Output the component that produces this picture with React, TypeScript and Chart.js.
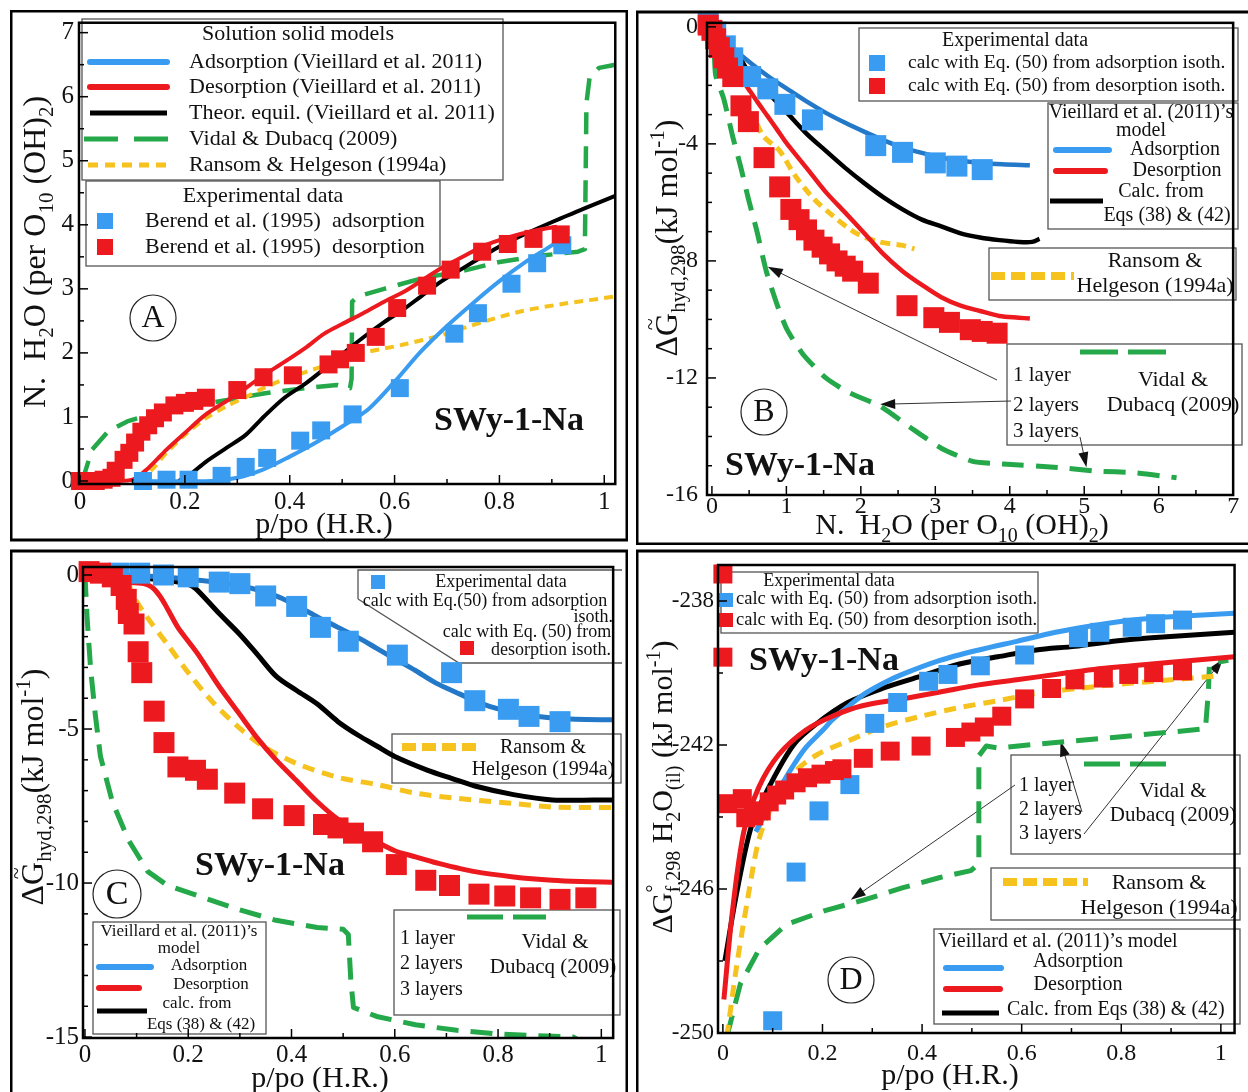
import React, { useEffect, useRef } from 'react';
import { Chart, registerables } from 'chart.js';

Chart.register(...registerables);

type P = [number, number];

// ================= Panel A : N. H2O vs p/po =================
const A_xTicks = [0, 0.2, 0.4, 0.6, 0.8, 1];
const A_yTicks = [0, 1, 2, 3, 4, 5, 6, 7];
const A_adsData: P[] = [[0.12, 0], [0.165, 0.02], [0.207, 0.02], [0.27, 0.08], [0.316, 0.22], [0.357, 0.36], [0.42, 0.63], [0.46, 0.79], [0.52, 1.04], [0.61, 1.45], [0.714, 2.3], [0.759, 2.62], [0.823, 3.08], [0.872, 3.4], [0.92, 3.68]];
const A_desData: P[] = [[0, 0], [0.015, 0], [0.03, 0], [0.045, 0.02], [0.06, 0.05], [0.068, 0.16], [0.083, 0.33], [0.094, 0.44], [0.105, 0.6], [0.117, 0.77], [0.13, 0.87], [0.143, 0.98], [0.158, 1.07], [0.18, 1.18], [0.2, 1.22], [0.218, 1.25], [0.24, 1.3], [0.3, 1.42], [0.35, 1.62], [0.406, 1.65], [0.474, 1.82], [0.496, 1.9], [0.526, 2.0], [0.564, 2.25], [0.605, 2.7], [0.662, 3.05], [0.707, 3.3], [0.767, 3.58], [0.816, 3.7], [0.865, 3.78], [0.917, 3.85]];
const A_adsModel: P[] = [[0.1, 0], [0.25, 0], [0.3, 0.05], [0.35, 0.18], [0.4, 0.38], [0.45, 0.6], [0.5, 0.85], [0.55, 1.12], [0.6, 1.55], [0.65, 2.02], [0.7, 2.42], [0.75, 2.78], [0.8, 3.12], [0.85, 3.42], [0.9, 3.68], [0.92, 3.8]];
const A_desModel: P[] = [[0.05, 0], [0.1, 0.02], [0.13, 0.2], [0.165, 0.49], [0.2, 0.75], [0.24, 1.04], [0.28, 1.25], [0.316, 1.45], [0.35, 1.65], [0.39, 1.86], [0.43, 2.08], [0.466, 2.3], [0.5, 2.45], [0.54, 2.62], [0.58, 2.8], [0.617, 2.95], [0.65, 3.12], [0.69, 3.33], [0.73, 3.5], [0.767, 3.66], [0.8, 3.76], [0.842, 3.86], [0.88, 3.93], [0.91, 3.97]];
const A_equil: P[] = [[0.188, 0], [0.21, 0.1], [0.24, 0.3], [0.28, 0.52], [0.316, 0.72], [0.35, 1.0], [0.39, 1.3], [0.43, 1.52], [0.466, 1.75], [0.5, 1.98], [0.54, 2.24], [0.58, 2.48], [0.617, 2.68], [0.65, 2.88], [0.69, 3.12], [0.73, 3.32], [0.767, 3.5], [0.8, 3.66], [0.842, 3.83], [0.88, 3.97], [0.917, 4.1], [0.96, 4.25], [1.021, 4.45]];
const A_vidal: P[] = [[0, 0], [0.008, 0.1], [0.023, 0.49], [0.053, 0.77], [0.09, 0.93], [0.135, 1.04], [0.2, 1.15], [0.278, 1.26], [0.353, 1.37], [0.43, 1.45], [0.49, 1.5], [0.515, 1.45], [0.518, 1.6], [0.519, 2.8], [0.53, 2.88], [0.58, 3.0], [0.654, 3.17], [0.73, 3.28], [0.8, 3.42], [0.88, 3.52], [0.95, 3.58], [0.963, 3.62], [0.966, 5.9], [0.972, 6.3], [0.99, 6.45], [1.021, 6.5]];
const A_ransom: P[] = [[0.113, 0], [0.14, 0.2], [0.165, 0.44], [0.2, 0.72], [0.24, 0.98], [0.28, 1.17], [0.316, 1.31], [0.35, 1.45], [0.39, 1.59], [0.43, 1.7], [0.466, 1.8], [0.5, 1.9], [0.54, 2.0], [0.617, 2.13], [0.69, 2.28], [0.767, 2.48], [0.842, 2.65], [0.917, 2.76], [1.021, 2.88]];
const A_modelLabels = ['Adsorption (Vieillard et al. 2011)', 'Desorption (Vieillard et al. 2011)', 'Theor. equil. (Vieillard et al. 2011)', 'Vidal & Dubacq (2009)', 'Ransom & Helgeson (1994a)'];
const A_dataLabels = ['Berend et al. (1995)  adsorption', 'Berend et al. (1995)  desorption'];

// ================= Panel B : dG hyd vs N. H2O =================
const B_xTicks = [0, 1, 2, 3, 4, 5, 6, 7];
const B_yTicks = [0, -4, -8, -12, -16];
const B_adsData: P[] = [[-0.05, 0.12], [0.05, -0.18], [0.18, -0.65], [0.28, -1.06], [0.52, -1.7], [0.75, -2.12], [0.98, -2.65], [1.35, -3.18], [2.2, -4.06], [2.56, -4.29], [3.0, -4.65], [3.29, -4.76], [3.63, -4.88]];
const B_desData: P[] = [[-0.05, 0.06], [0, -0.12], [0.05, -0.41], [0.1, -0.71], [0.16, -1.06], [0.21, -1.41], [0.28, -1.7], [0.39, -2.7], [0.49, -3.24], [0.7, -4.47], [0.91, -5.47], [1.06, -6.24], [1.17, -6.59], [1.27, -6.94], [1.37, -7.29], [1.48, -7.53], [1.58, -7.76], [1.68, -8.0], [1.79, -8.18], [1.89, -8.35], [2.1, -8.76], [2.62, -9.53], [2.98, -9.94], [3.19, -10.1], [3.47, -10.35], [3.63, -10.41], [3.83, -10.47]];
const B_adsModel: P[] = [[-0.05, 0.24], [0.1, -0.25], [0.23, -0.59], [0.49, -1.18], [0.75, -1.68], [1.01, -2.12], [1.27, -2.55], [1.53, -2.94], [1.79, -3.28], [2.05, -3.59], [2.3, -3.87], [2.56, -4.12], [2.82, -4.31], [3.08, -4.47], [3.34, -4.58], [3.6, -4.65], [3.9, -4.7], [4.27, -4.73]];
const B_desModel: P[] = [[0, 0.12], [0.1, -0.45], [0.23, -1.06], [0.35, -1.6], [0.49, -2.12], [0.62, -2.6], [0.75, -3.06], [0.88, -3.53], [1.01, -4.0], [1.27, -4.82], [1.53, -5.65], [1.79, -6.35], [2.05, -7.06], [2.3, -7.76], [2.56, -8.35], [2.82, -8.82], [3.08, -9.24], [3.34, -9.53], [3.6, -9.71], [3.86, -9.88], [4.12, -9.94], [4.27, -9.97]];
const B_equil: P[] = [[0, 0.18], [0.1, -0.25], [0.23, -0.59], [0.35, -0.95], [0.49, -1.53], [0.75, -2.24], [1.01, -2.94], [1.27, -3.65], [1.53, -4.24], [1.79, -4.82], [2.05, -5.35], [2.3, -5.82], [2.56, -6.24], [2.82, -6.59], [3.08, -6.82], [3.34, -7.06], [3.6, -7.2], [3.86, -7.29], [4.12, -7.35], [4.3, -7.35], [4.4, -7.25]];
const B_ransom: P[] = [[0.6, -3.3], [0.7, -3.76], [0.91, -4.24], [1.11, -5.06], [1.37, -5.88], [1.63, -6.47], [1.94, -7.06], [2.25, -7.35], [2.56, -7.47], [2.72, -7.59]];
const B_vidal: P[] = [[0, 0.12], [0.03, -0.8], [0.05, -1.65], [0.16, -2.47], [0.28, -3.76], [0.39, -4.82], [0.49, -5.88], [0.6, -6.94], [0.73, -8.35], [0.88, -9.53], [1.01, -10.35], [1.22, -11.18], [1.53, -12.0], [1.84, -12.5], [2.25, -12.95], [2.67, -13.7], [3.08, -14.4], [3.5, -14.85], [3.91, -14.94], [4.64, -15.06], [5.16, -15.18], [5.67, -15.24], [6.24, -15.41]];
const B_layerTargets: P[] = [[0.75, -8.2], [2.26, -12.9], [5.03, -15.05]];

// ================= Panel C : dG hyd vs p/po =================
const C_xTicks = [0, 0.2, 0.4, 0.6, 0.8, 1];
const C_yTicks = [0, -5, -10, -15];
const C_adsData: P[] = [[0.065, 0.06], [0.106, 0.06], [0.152, 0], [0.2, -0.06], [0.26, -0.23], [0.3, -0.28], [0.35, -0.68], [0.41, -1.02], [0.456, -1.7], [0.51, -2.15], [0.605, -2.6], [0.71, -3.17], [0.755, -4.08], [0.82, -4.36], [0.86, -4.59], [0.92, -4.76]];
const C_desData: P[] = [[0.008, 0.11], [0.03, 0.06], [0.053, -0.06], [0.07, -0.34], [0.08, -0.79], [0.084, -1.25], [0.095, -1.59], [0.103, -2.49], [0.11, -3.17], [0.134, -4.42], [0.153, -5.44], [0.18, -6.23], [0.214, -6.34], [0.237, -6.63], [0.29, -7.08], [0.344, -7.59], [0.405, -7.81], [0.462, -8.1], [0.49, -8.21], [0.52, -8.38], [0.557, -8.66], [0.603, -9.4], [0.66, -9.91], [0.706, -10.08], [0.763, -10.36], [0.813, -10.42], [0.863, -10.48], [0.92, -10.53], [0.97, -10.48]];
const C_adsModel: P[] = [[0.07, 0], [0.145, -0.06], [0.22, -0.17], [0.3, -0.34], [0.37, -0.68], [0.41, -1.0], [0.45, -1.36], [0.49, -1.7], [0.53, -2.04], [0.565, -2.38], [0.6, -2.72], [0.64, -3.1], [0.68, -3.51], [0.72, -3.82], [0.755, -4.08], [0.79, -4.3], [0.83, -4.47], [0.87, -4.58], [0.905, -4.64], [0.95, -4.68], [1.023, -4.7]];
const C_desModel: P[] = [[0.076, -0.23], [0.114, -0.28], [0.13, -0.4], [0.145, -0.68], [0.16, -1.1], [0.18, -1.7], [0.2, -2.15], [0.22, -2.6], [0.26, -3.62], [0.3, -4.53], [0.335, -5.32], [0.37, -6.0], [0.41, -6.68], [0.45, -7.36], [0.49, -7.93], [0.53, -8.32], [0.565, -8.66], [0.6, -8.95], [0.64, -9.15], [0.68, -9.34], [0.755, -9.63], [0.83, -9.8], [0.905, -9.91], [0.96, -9.95], [1.023, -9.97]];
const C_equil: P[] = [[0.076, -0.06], [0.145, -0.15], [0.2, -0.3], [0.215, -0.45], [0.26, -1.25], [0.3, -1.93], [0.335, -2.6], [0.37, -3.28], [0.41, -3.75], [0.45, -4.19], [0.49, -4.76], [0.53, -5.21], [0.565, -5.55], [0.6, -5.89], [0.664, -6.34], [0.71, -6.6], [0.755, -6.85], [0.83, -7.13], [0.905, -7.3], [1.023, -7.3]];
const C_ransom: P[] = [[0.085, -0.2], [0.09, -0.57], [0.12, -1.36], [0.16, -2.26], [0.2, -3.17], [0.245, -4.08], [0.3, -4.98], [0.344, -5.55], [0.41, -6.12], [0.49, -6.57], [0.565, -6.8], [0.64, -7.08], [0.72, -7.25], [0.83, -7.42], [0.905, -7.53], [1.023, -7.55]];
const C_vidal: P[] = [[0, 0], [0.004, -1.36], [0.011, -3.06], [0.02, -4.53], [0.03, -5.89], [0.053, -7.36], [0.084, -8.6], [0.122, -9.63], [0.16, -10.08], [0.22, -10.42], [0.3, -10.87], [0.37, -11.21], [0.45, -11.44], [0.5, -11.5], [0.51, -11.67], [0.515, -13.2], [0.52, -14.04], [0.565, -14.33], [0.64, -14.6], [0.72, -14.78], [0.794, -14.89], [0.87, -14.95], [0.946, -15.0], [0.977, -15.3]];

// ================= Panel D : dGf H2O(il) vs p/po =================
const D_xTicks = [0, 0.2, 0.4, 0.6, 0.8, 1];
const D_yTicks = [-238, -242, -246, -250];
const D_adsData: P[] = [[0.1, -249.66], [0.147, -245.53], [0.193, -243.83], [0.255, -243.1], [0.305, -241.4], [0.351, -240.82], [0.413, -240.23], [0.452, -240.04], [0.517, -239.8], [0.606, -239.5], [0.714, -239.02], [0.757, -238.87], [0.822, -238.73], [0.869, -238.63], [0.923, -238.53]];
const D_desData: P[] = [[0, -237.25], [0, -239.56], [0.01, -243.63], [0.039, -243.49], [0.046, -244.02], [0.062, -243.97], [0.077, -243.83], [0.093, -243.58], [0.108, -243.39], [0.124, -243.25], [0.147, -243.05], [0.17, -242.91], [0.197, -242.81], [0.224, -242.71], [0.239, -242.66], [0.282, -242.37], [0.336, -242.17], [0.398, -242.03], [0.467, -241.79], [0.498, -241.64], [0.525, -241.5], [0.56, -241.2], [0.606, -240.72], [0.66, -240.43], [0.707, -240.19], [0.764, -240.14], [0.815, -240.04], [0.865, -239.99], [0.923, -239.94]];
const D_adsModel: P[] = [[0.066, -244.41], [0.09, -243.8], [0.112, -243.25], [0.14, -242.6], [0.166, -242.08], [0.2, -241.6], [0.22, -241.3], [0.25, -240.95], [0.28, -240.62], [0.32, -240.3], [0.36, -240.04], [0.436, -239.65], [0.514, -239.36], [0.59, -239.12], [0.668, -238.87], [0.745, -238.68], [0.822, -238.53], [0.9, -238.44], [1.027, -238.34]];
const D_desModel: P[] = [[0.002, -249.07], [0.019, -246.64], [0.042, -244.41], [0.073, -243.15], [0.112, -242.27], [0.166, -241.59], [0.22, -241.2], [0.28, -240.91], [0.36, -240.72], [0.436, -240.53], [0.514, -240.33], [0.59, -240.19], [0.668, -240.04], [0.745, -239.9], [0.822, -239.8], [0.9, -239.7], [1.027, -239.55]];
const D_equil: P[] = [[0.004, -248.0], [0.027, -246.16], [0.058, -244.22], [0.097, -243.05], [0.143, -241.98], [0.189, -241.4], [0.251, -240.82], [0.32, -240.43], [0.398, -240.09], [0.475, -239.75], [0.552, -239.55], [0.629, -239.36], [0.707, -239.26], [0.784, -239.12], [0.861, -239.02], [1.027, -238.87]];
const D_ransom: P[] = [[0.008, -250.1], [0.027, -248.2], [0.05, -246.26], [0.073, -244.6], [0.104, -243.54], [0.143, -242.76], [0.189, -242.27], [0.251, -241.89], [0.32, -241.5], [0.398, -241.2], [0.475, -240.96], [0.552, -240.77], [0.629, -240.57], [0.745, -240.38], [0.822, -240.28], [0.9, -240.19], [0.985, -240.09]];
const D_vidal: P[] = [[0.008, -250.1], [0.035, -248.64], [0.073, -247.67], [0.127, -246.99], [0.205, -246.6], [0.282, -246.31], [0.36, -245.97], [0.436, -245.68], [0.498, -245.49], [0.514, -245.3], [0.514, -242.3], [0.529, -242.03], [0.552, -242.08], [0.668, -241.93], [0.784, -241.79], [0.9, -241.64], [0.969, -241.55], [0.975, -240.5], [0.977, -239.75], [0.992, -239.7], [1.015, -239.65]];
const D_layerTargets: P[] = [[0.257, -246.3], [0.678, -241.9], [1.004, -239.62]];

// ================= styling =================
const FAM = "'Liberation Serif', 'Times New Roman', serif";
const BLUE = '#3a9cf0';
const BLUE_D = '#2478c8';
const RED = '#ec1a1f';
const GREEN = '#24a84a';
const YELLOW = '#f6c21e';
const INK = '#111';

type Seg = [string, string];
const Y_TITLE_A: Seg[] = [['N.  H', 'n'], ['2', 'b'], ['O (per O', 'n'], ['10', 'b'], [' (OH)', 'n'], ['2', 'b'], [')', 'n']];
const Y_TITLE_G: Seg[] = [['\u0394', 'n'], ['G', 'n'], ['~', 'T'], ['hyd,298', 'b'], ['(kJ mol', 'n'], ['-1', 'p'], [')', 'n']];
const Y_TITLE_D: Seg[] = [['\u0394', 'n'], ['G', 'n'], ['\u00b0', 'P'], ['f,298', 'b'], [' H', 'n'], ['2', 'b'], ['O', 'n'], ['(il)', 'b'], [' (kJ mol', 'n'], ['-1', 'p'], [')', 'n']];

const fnt = (s: number, bold = false) => `${bold ? 'bold ' : ''}${s}px ${FAM}`;

function txt(c: CanvasRenderingContext2D, s: string, x: number, y: number, size: number, align: CanvasTextAlign = 'left', bold = false) {
  c.font = fnt(size, bold);
  c.textAlign = align;
  c.textBaseline = 'middle';
  c.fillStyle = INK;
  c.fillText(s, x, y);
}
function box(c: CanvasRenderingContext2D, x1: number, y1: number, x2: number, y2: number) {
  c.setLineDash([]);
  c.strokeStyle = '#555';
  c.lineWidth = 1.3;
  c.strokeRect(x1, y1, x2 - x1, y2 - y1);
}
function seg(c: CanvasRenderingContext2D, x1: number, x2: number, y: number, color: string, lw: number, dash: number[] = [], cap: CanvasLineCap = 'round') {
  c.save();
  c.setLineDash(dash);
  c.lineCap = cap;
  c.strokeStyle = color;
  c.lineWidth = lw;
  c.beginPath();
  c.moveTo(x1, y);
  c.lineTo(x2, y);
  c.stroke();
  c.restore();
}
function sq(c: CanvasRenderingContext2D, x: number, y: number, s: number, color: string) {
  c.fillStyle = color;
  c.fillRect(x - s / 2, y - s / 2, s, s);
}
function circ(c: CanvasRenderingContext2D, x: number, y: number, r: number, letter: string, size: number) {
  c.setLineDash([]);
  c.strokeStyle = '#222';
  c.lineWidth = 1.2;
  c.beginPath();
  c.arc(x, y, r, 0, Math.PI * 2);
  c.stroke();
  txt(c, letter, x, y + 1, size, 'center');
}
function arrow(c: CanvasRenderingContext2D, x1: number, y1: number, x2: number, y2: number) {
  c.save();
  c.setLineDash([]);
  c.strokeStyle = '#333';
  c.fillStyle = '#111';
  c.lineWidth = 1;
  const a = Math.atan2(y2 - y1, x2 - x1);
  c.beginPath();
  c.moveTo(x1, y1);
  c.lineTo(x2 - 10 * Math.cos(a), y2 - 10 * Math.sin(a));
  c.stroke();
  c.beginPath();
  c.moveTo(x2, y2);
  c.lineTo(x2 - 15 * Math.cos(a) + 5 * Math.sin(a), y2 - 15 * Math.sin(a) - 5 * Math.cos(a));
  c.lineTo(x2 - 15 * Math.cos(a) - 5 * Math.sin(a), y2 - 15 * Math.sin(a) + 5 * Math.cos(a));
  c.closePath();
  c.fill();
  c.restore();
}
function rich(c: CanvasRenderingContext2D, segs: Seg[], x: number, y: number, size: number, rot: boolean) {
  const small = Math.round(size * 0.66);
  const fFor = (k: string) => fnt(k === 'n' ? size : small);
  let total = 0;
  for (const [t, k] of segs) {
    if (k === 'P' || k === 'T') continue;
    c.font = fFor(k);
    total += c.measureText(t).width;
  }
  c.save();
  c.translate(x, y);
  if (rot) c.rotate(-Math.PI / 2);
  c.textBaseline = 'alphabetic';
  c.textAlign = 'left';
  c.fillStyle = INK;
  let cx = -total / 2;
  let lastW = 0;
  const base = size * 0.33;
  for (const [t, k] of segs) {
    if (k === 'T') {
      c.font = fnt(Math.round(size * 0.7));
      c.textAlign = 'center';
      c.fillText(t, cx - lastW / 2, base - size * 0.6);
      c.textAlign = 'left';
      continue;
    }
    c.font = fFor(k);
    const dy = k === 'b' ? size * 0.26 : k === 'p' || k === 'P' ? -size * 0.4 : 0;
    c.fillText(t, cx, base + dy);
    const w = c.measureText(t).width;
    if (k !== 'P') {
      cx += w;
      lastW = w;
    }
  }
  c.restore();
}

const toXY = (d: P[]) => d.map(([x, y]) => ({ x, y }));
const lineDs = (d: P[], color: string, width: number, dash: number[] = [], tension = 0.3) => ({
  data: toXY(d), showLine: true, borderColor: color, borderWidth: width, borderDash: dash,
  pointRadius: 0, pointHoverRadius: 0, tension, fill: false, borderCapStyle: 'butt', borderJoinStyle: 'round',
});
const ptsDs = (d: P[], color: string, side: number) => ({
  data: toXY(d), showLine: false, pointStyle: 'rect', pointRadius: side / Math.SQRT2, pointHoverRadius: side / Math.SQRT2,
  backgroundColor: color, borderColor: color, pointBorderWidth: 0, clip: false,
});

type Axis = { min: number; max: number; ticks: number[]; minor: number; pad: number; font: number };
type PX = (x: number, y: number) => [number, number];
type Spec = {
  ox: number; oy: number; w: number; h: number;
  area: { l: number; r: number; t: number; b: number };
  frame: [number, number, number, number];
  x: Axis; y: Axis;
  datasets: any[];
  under: (c: CanvasRenderingContext2D, px: PX) => void;
};

// ---------- panel specs ----------
const SPEC_A: Spec = {
  ox: 10, oy: 10, w: 618, h: 535,
  area: { l: 79, r: 617, t: 20, b: 484 },
  frame: [11, 11, 627, 540],
  x: { min: -0.002, max: 1.021, ticks: A_xTicks, minor: 0.1, pad: 3, font: 25 },
  y: { min: -0.047, max: 7.155, ticks: A_yTicks, minor: 0.5, pad: 5, font: 25 },
  datasets: [
    ptsDs(A_desData, RED, 18), ptsDs(A_adsData, BLUE, 18),
    lineDs(A_desModel, RED, 4), lineDs(A_adsModel, BLUE, 4), lineDs(A_equil, '#000', 4),
    lineDs(A_ransom, YELLOW, 4, [9, 6]), lineDs(A_vidal, GREEN, 4.5, [22, 12], 0),
  ],
  under: (c) => {
    box(c, 82, 19, 503, 180);
    txt(c, 'Solution solid models', 298, 34, 22, 'center');
    const rows = [62, 87, 113, 139, 165];
    seg(c, 90, 167, rows[0], BLUE, 6);
    seg(c, 90, 167, rows[1], RED, 6);
    seg(c, 90, 167, rows[2], '#000', 5, [], 'butt');
    seg(c, 84, 176, rows[3], GREEN, 5, [34, 16], 'butt');
    seg(c, 88, 166, rows[4], YELLOW, 5, [10, 7], 'butt');
    A_modelLabels.forEach((t, i) => txt(c, t, 189, rows[i], 22));
    box(c, 86, 181, 440, 266);
    txt(c, 'Experimental data', 263, 196, 22, 'center');
    sq(c, 105, 221, 16, BLUE);
    sq(c, 105, 247, 16, RED);
    txt(c, A_dataLabels[0], 145, 221, 22);
    txt(c, A_dataLabels[1], 145, 247, 22);
    circ(c, 153, 318, 23, 'A', 32);
    txt(c, 'SWy-1-Na', 509, 421, 34, 'center', true);
    rich(c, Y_TITLE_A, 34, 252, 32, true);
    txt(c, 'p/po (H.R.)', 324, 525, 30, 'center');
  },
};

const SPEC_B: Spec = {
  ox: 636, oy: 8, w: 612, h: 537,
  area: { l: 707, r: 1241, t: 19, b: 495 },
  frame: [637, 12, 1252, 544],
  x: { min: -0.066, max: 7.0, ticks: B_xTicks, minor: 0.5, pad: -3, font: 24 },
  y: { min: -16, max: 0.136, ticks: B_yTicks, minor: 1, pad: 9, font: 24 },
  datasets: [
    ptsDs(B_desData, RED, 21), ptsDs(B_adsData, BLUE, 21),
    lineDs(B_desModel, RED, 4.5), lineDs(B_adsModel, BLUE_D, 4.5), lineDs(B_equil, '#000', 4.5),
    lineDs(B_ransom, YELLOW, 5, [10, 6]), lineDs(B_vidal, GREEN, 5, [22, 12], 0.2),
  ],
  under: (c, px) => {
    box(c, 859, 28, 1238, 101);
    txt(c, 'Experimental data', 1015, 41, 20, 'center');
    sq(c, 877, 63, 16, BLUE);
    sq(c, 877, 86, 16, RED);
    txt(c, 'calc with Eq. (50) from adsorption isoth.', 908, 63, 19.5);
    txt(c, 'calc with Eq. (50) from desorption isoth.', 908, 86, 19.5);
    box(c, 1048, 103, 1238, 229);
    txt(c, 'Vieillard et al. (2011)\u2019s', 1141, 113, 20, 'center');
    txt(c, 'model', 1141, 131, 20, 'center');
    seg(c, 1056, 1109, 150, BLUE, 6);
    txt(c, 'Adsorption', 1175, 150, 20, 'center');
    seg(c, 1056, 1105, 171, RED, 6);
    txt(c, 'Desorption', 1177, 171, 20, 'center');
    seg(c, 1050, 1103, 201, '#000', 5, [], 'butt');
    txt(c, 'Calc. from', 1161, 192, 20, 'center');
    txt(c, 'Eqs (38) & (42)', 1167, 216, 20, 'center');
    box(c, 989, 248, 1236, 300);
    seg(c, 991, 1074, 276, YELLOW, 8, [14, 6], 'butt');
    txt(c, 'Ransom &', 1155, 261, 22, 'center');
    txt(c, 'Helgeson (1994a)', 1155, 286, 22, 'center');
    box(c, 1007, 344, 1242, 445);
    seg(c, 1080, 1166, 352, GREEN, 5, [38, 10], 'butt');
    txt(c, '1 layer', 1013, 375, 21);
    txt(c, '2 layers', 1013, 405, 21);
    txt(c, '3 layers', 1013, 431, 21);
    txt(c, 'Vidal &', 1173, 380, 22, 'center');
    txt(c, 'Dubacq (2009)', 1173, 405, 22, 'center');
    const starts: P[] = [[997, 380], [1011, 401], [1080, 437]];
    B_layerTargets.forEach((t, i) => {
      const [tx, ty] = px(t[0], t[1]);
      arrow(c, starts[i][0], starts[i][1], tx, ty);
    });
    circ(c, 764, 412, 23, 'B', 32);
    txt(c, 'SWy-1-Na', 800, 466, 34, 'center', true);
    rich(c, Y_TITLE_G, 666, 238, 32, true);
    rich(c, Y_TITLE_A, 962, 524, 30, false);
  },
};

const SPEC_C: Spec = {
  ox: 10, oy: 548, w: 618, h: 544,
  area: { l: 83, r: 622, t: 567, b: 1038 },
  frame: [11, 551, 627, 1096],
  x: { min: -0.0038, max: 1.0229, ticks: C_xTicks, minor: 0.1, pad: 2, font: 25 },
  y: { min: -15.03, max: 0.26, ticks: C_yTicks, minor: 1, pad: 4, font: 25 },
  datasets: [
    ptsDs(C_desData, RED, 21), ptsDs(C_adsData, BLUE, 21),
    lineDs(C_desModel, RED, 5), lineDs(C_adsModel, BLUE_D, 5), lineDs(C_equil, '#000', 5),
    lineDs(C_ransom, YELLOW, 5, [12, 8]), lineDs(C_vidal, GREEN, 5, [22, 12], 0),
  ],
  under: (c) => {
    c.setLineDash([]);
    c.strokeStyle = '#555';
    c.lineWidth = 1.3;
    c.beginPath();
    c.moveTo(358, 599);
    c.lineTo(358, 570);
    c.lineTo(622, 570);
    c.moveTo(622, 663);
    c.lineTo(459, 663);
    c.lineTo(358, 599);
    c.stroke();
    sq(c, 378, 582, 14, BLUE);
    txt(c, 'Experimental data', 501, 582, 18, 'center');
    txt(c, 'calc with Eq.(50) from adsorption', 485, 601, 18, 'center');
    txt(c, 'isoth.', 613, 617, 18, 'right');
    txt(c, 'calc with Eq. (50) from', 527, 632, 18, 'center');
    sq(c, 467, 648, 14, RED);
    txt(c, 'desorption isoth.', 551, 650, 18, 'center');
    box(c, 392, 734, 621, 783);
    seg(c, 402, 481, 747, YELLOW, 8, [14, 6], 'butt');
    txt(c, 'Ransom &', 543, 748, 20, 'center');
    txt(c, 'Helgeson (1994a)', 543, 770, 20, 'center');
    box(c, 394, 910, 620, 1015);
    seg(c, 467, 546, 917, GREEN, 5, [36, 10], 'butt');
    txt(c, '1 layer', 400, 939, 20);
    txt(c, '2 layers', 400, 964, 20);
    txt(c, '3 layers', 400, 990, 20);
    txt(c, 'Vidal &', 555, 942, 21, 'center');
    txt(c, 'Dubacq (2009)', 553, 967, 21, 'center');
    box(c, 93, 922, 266, 1034);
    txt(c, 'Vieillard et al. (2011)\u2019s', 179, 932, 17, 'center');
    txt(c, 'model', 179, 949, 17, 'center');
    seg(c, 99, 151, 967, BLUE, 6);
    txt(c, 'Adsorption', 209, 966, 17, 'center');
    seg(c, 99, 139, 988, RED, 6);
    txt(c, 'Desorption', 211, 985, 17, 'center');
    seg(c, 97, 147, 1011, '#000', 5, [], 'butt');
    txt(c, 'calc. from', 197, 1004, 17, 'center');
    txt(c, 'Eqs (38) & (42)', 201, 1025, 17, 'center');
    circ(c, 117, 894, 24, 'C', 34);
    txt(c, 'SWy-1-Na', 270, 866, 34, 'center', true);
    rich(c, Y_TITLE_G, 32, 787, 32, true);
    txt(c, 'p/po (H.R.)', 320, 1079, 30, 'center');
  },
};

const SPEC_D: Spec = {
  ox: 636, oy: 548, w: 612, h: 544,
  area: { l: 718, r: 1246, t: 565, b: 1033 },
  frame: [637, 551, 1252, 1096],
  x: { min: -0.0098, max: 1.0275, ticks: D_xTicks, minor: 0.1, pad: 6, font: 24 },
  y: { min: -250, max: -237.0, ticks: D_yTicks, minor: 2, pad: 4, font: 23 },
  datasets: [
    ptsDs(D_desData, RED, 19), ptsDs(D_adsData, BLUE, 19),
    lineDs(D_desModel, RED, 5), lineDs(D_adsModel, BLUE, 5), lineDs(D_equil, '#000', 5),
    lineDs(D_ransom, YELLOW, 5, [12, 8]), lineDs(D_vidal, GREEN, 5, [22, 12], 0),
  ],
  under: (c, px) => {
    box(c, 721, 572, 1038, 633);
    txt(c, 'Experimental data', 829, 581, 18, 'center');
    sq(c, 726, 600, 14, BLUE);
    sq(c, 726, 620, 14, RED);
    txt(c, 'calc with Eq. (50) from adsorption isoth.', 736, 599, 18.5);
    txt(c, 'calc with Eq. (50) from desorption isoth.', 736, 620, 18.5);
    txt(c, 'SWy-1-Na', 824, 661, 34, 'center', true);
    box(c, 1011, 755, 1240, 854);
    seg(c, 1084, 1166, 764, GREEN, 5, [36, 10], 'butt');
    txt(c, '1 layer', 1019, 786, 20);
    txt(c, '2 layers', 1019, 810, 20);
    txt(c, '3 layers', 1019, 834, 20);
    txt(c, 'Vidal &', 1173, 791, 21, 'center');
    txt(c, 'Dubacq (2009)', 1173, 815, 21, 'center');
    const starts: P[] = [[1015, 785], [1082, 812], [1084, 834]];
    D_layerTargets.forEach((t, i) => {
      const [tx, ty] = px(t[0], t[1]);
      arrow(c, starts[i][0], starts[i][1], tx, ty);
    });
    box(c, 991, 868, 1240, 920);
    seg(c, 1003, 1088, 882, YELLOW, 8, [14, 6], 'butt');
    txt(c, 'Ransom &', 1159, 883, 22, 'center');
    txt(c, 'Helgeson (1994a)', 1159, 908, 22, 'center');
    box(c, 934, 929, 1240, 1024);
    txt(c, 'Vieillard et al. (2011)\u2019s model', 938, 942, 20);
    seg(c, 946, 1001, 968, BLUE, 6);
    txt(c, 'Adsorption', 1078, 962, 20, 'center');
    seg(c, 946, 1000, 989, RED, 6);
    txt(c, 'Desorption', 1078, 985, 20, 'center');
    seg(c, 942, 999, 1013, '#000', 5, [], 'butt');
    txt(c, 'Calc. from Eqs (38) & (42)', 1007, 1010, 20);
    circ(c, 851, 980, 23, 'D', 32);
    rich(c, Y_TITLE_D, 662, 787, 30, true);
    txt(c, 'p/po (H.R.)', 950, 1076, 30, 'center');
  },
};

const PANELS: Spec[] = [SPEC_A, SPEC_B, SPEC_C, SPEC_D];

const fmt = (v: number) => String(Math.round(v * 1000) / 1000);

function buildConfig(s: Spec): any {
  const cl = s.area.l - s.ox;
  const cr = s.area.r - s.ox;
  const ct = s.area.t - s.oy;
  const cb = s.area.b - s.oy;
  const axis = (a: Axis, isX: boolean) => ({
    type: 'linear',
    position: isX ? 'bottom' : 'left',
    min: a.min,
    max: a.max,
    grid: { display: false, drawTicks: false },
    border: { display: false },
    ticks: {
      font: { family: FAM, size: a.font },
      color: INK,
      padding: a.pad,
      maxRotation: 0,
      minRotation: 0,
      autoSkip: false,
      callback: (v: any) => fmt(Number(v)),
    },
    afterBuildTicks: (sc: any) => {
      sc.ticks = a.ticks.map((v) => ({ value: v }));
    },
    afterFit: (sc: any) => {
      if (isX) sc.height = s.h - cb;
      else sc.width = cl;
      sc.paddingTop = 0;
      sc.paddingBottom = 0;
      sc.paddingLeft = 0;
      sc.paddingRight = 0;
    },
  });
  const makePx = (chart: any): PX => (x, y) => [
    chart.scales.x.getPixelForValue(x) + s.ox,
    chart.scales.y.getPixelForValue(y) + s.oy,
  ];
  const deco = {
    id: 'deco',
    beforeDatasetsDraw(chart: any) {
      const c = chart.ctx as CanvasRenderingContext2D;
      c.save();
      c.translate(-s.ox, -s.oy);
      s.under(c, makePx(chart));
      c.restore();
    },
    afterDatasetsDraw(chart: any) {
      const c = chart.ctx as CanvasRenderingContext2D;
      const { left, right, top, bottom } = chart.chartArea;
      const xs = chart.scales.x;
      const ys = chart.scales.y;
      c.save();
      c.setLineDash([]);
      c.strokeStyle = '#000';
      c.lineWidth = 1.5;
      const tk = (x1: number, y1: number, x2: number, y2: number) => {
        c.beginPath();
        c.moveTo(x1, y1);
        c.lineTo(x2, y2);
        c.stroke();
      };
      for (let v = Math.ceil(s.x.min / s.x.minor) * s.x.minor; v <= s.x.max + 1e-9; v += s.x.minor) {
        const p = xs.getPixelForValue(v);
        const major = s.x.ticks.some((t) => Math.abs(t - v) < 1e-6);
        tk(p, bottom, p, bottom - (major ? 9 : 5));
      }
      for (let v = Math.ceil(s.y.min / s.y.minor) * s.y.minor; v <= s.y.max + 1e-9; v += s.y.minor) {
        const p = ys.getPixelForValue(v);
        const major = s.y.ticks.some((t) => Math.abs(t - v) < 1e-6);
        tk(left, p, left + (major ? 9 : 5), p);
      }
      c.lineWidth = 2.5;
      c.strokeRect(left, top, right - left, bottom - top);
      c.translate(-s.ox, -s.oy);
      c.lineWidth = 3;
      const [fx1, fy1, fx2, fy2] = s.frame;
      c.strokeRect(fx1, fy1, fx2 - fx1, fy2 - fy1);
      c.restore();
    },
  };
  return {
    type: 'scatter',
    data: { datasets: s.datasets },
    options: {
      responsive: false,
      maintainAspectRatio: false,
      animation: false,
      devicePixelRatio: 1,
      events: [],
      layout: { padding: { left: 0, top: ct, right: s.w - cr, bottom: 0 } },
      plugins: { legend: { display: false }, tooltip: { enabled: false } },
      scales: { x: axis(s.x, true), y: axis(s.y, false) },
    },
    plugins: [deco],
  };
}

function Panel({ spec }: { spec: Spec }) {
  const ref = useRef<HTMLCanvasElement>(null);
  useEffect(() => {
    if (!ref.current) return;
    const chart = new Chart(ref.current, buildConfig(spec));
    return () => chart.destroy();
  }, [spec]);
  return (
    <canvas
      ref={ref}
      width={spec.w}
      height={spec.h}
      style={{ position: 'absolute', left: spec.ox, top: spec.oy, width: spec.w, height: spec.h }}
    />
  );
}

export default function App() {
  return (
    <div style={{ position: 'absolute', left: 0, top: 0, width: 1248, height: 1092, overflow: 'hidden', background: '#fff' }}>
      {PANELS.map((p, i) => (
        <Panel key={i} spec={p} />
      ))}
    </div>
  );
}
